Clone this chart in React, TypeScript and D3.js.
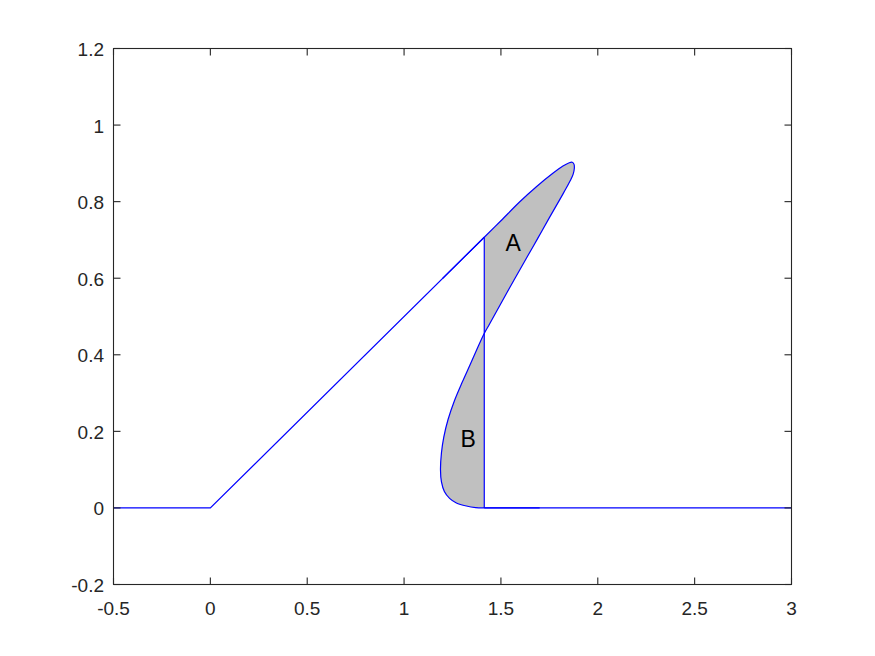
import React from "react";
import * as d3 from "d3";

const W = 875;
const H = 656;

const xDomain = [-0.5, 3];
const yDomain = [-0.2, 1.2];
const xTicks = [-0.5, 0, 0.5, 1, 1.5, 2, 2.5, 3];
const yTicks = [-0.2, 0, 0.2, 0.4, 0.6, 0.8, 1, 1.2];

// straight pieces of the solution
const leftBase: [number, number][] = [[-0.5, 0], [0, 0], [1.414, 0.707]];
const rightBase: [number, number][] = [[1.414, 0], [3, 0]];
const shock: [number, number][] = [[1.414, 0], [1.414, 0.707]];

// upper branch near the fold tip
const upperPts: [number, number][] = [
  [1.414, 0.707], [1.5, 0.75], [1.596, 0.799], [1.683, 0.839], [1.768, 0.874],
  [1.82, 0.893], [1.85, 0.901], [1.868, 0.903], [1.877, 0.898],
];
// returning (folded) branch down to the axis
const foldPts: [number, number][] = [
  [1.879, 0.887], [1.873, 0.872], [1.859, 0.856], [1.83, 0.829], [1.8, 0.802],
  [1.751, 0.759], [1.69, 0.704], [1.63, 0.651], [1.535, 0.566], [1.442, 0.481],
  [1.413, 0.455], [1.375, 0.413], [1.339, 0.372], [1.3, 0.328], [1.26, 0.28],
  [1.227, 0.231], [1.205, 0.185], [1.193, 0.144], [1.188, 0.1], [1.193, 0.068],
  [1.208, 0.043], [1.235, 0.025], [1.27, 0.013], [1.322, 0.005], [1.37, 0.001],
  [1.414, 0],
];

const labels = [
  { text: "A", x: 1.563, y: 0.694 },
  { text: "B", x: 1.331, y: 0.182 },
];

const L = 113.5, R = 791.5, T = 48.5, B = 584.5;

export default function App() {
  const x = d3.scaleLinear().domain(xDomain).range([L, R]);
  const y = d3.scaleLinear().domain(yDomain).range([B, T]);

  const lin = d3.line<[number, number]>().x((d) => x(d[0])).y((d) => y(d[1]));
  const smooth = d3
    .line<[number, number]>()
    .x((d) => x(d[0]))
    .y((d) => y(d[1]))
    .curve(d3.curveCatmullRom.alpha(0.5));

  const curvePts: [number, number][] = [
    [1.2, 0.6],
    ...upperPts,
    ...foldPts,
    [1.5, 0],
    [1.7, 0],
  ];
  const fillPts: [number, number][] = [...upperPts, ...foldPts];

  const font = "'Liberation Sans', Arial, Helvetica, sans-serif";
  const axisColor = "#262626";
  const tickLen = 7;

  return (
    <svg
      width={W}
      height={H}
      style={{ position: "absolute", left: 0, top: 0, background: "#fff" }}
    >
      <rect x={0} y={0} width={W} height={H} fill="#fff" />
      <path d={smooth(fillPts) + "Z"} fill="#c0c0c0" stroke="none" />
      <path d={smooth(curvePts) || ""} fill="none" stroke="#0000ff" strokeWidth={1.2} />
      <path d={lin(leftBase) || ""} fill="none" stroke="#0000ff" strokeWidth={1.2} />
      <path d={lin(rightBase) || ""} fill="none" stroke="#0000ff" strokeWidth={1.2} />
      <path d={lin(shock) || ""} fill="none" stroke="#0000ff" strokeWidth={1.2} />

      {labels.map((l) => (
        <text
          key={l.text}
          x={x(l.x)}
          y={y(l.y) + 8.3}
          textAnchor="middle"
          fontFamily={font}
          fontSize={23}
          fill="#000"
        >
          {l.text}
        </text>
      ))}

      <g stroke={axisColor} strokeWidth={1.1} fill="none">
        <rect x={L} y={T} width={R - L} height={B - T} />
        {xTicks.map((t) => (
          <g key={"xt" + t}>
            <line x1={x(t)} x2={x(t)} y1={B} y2={B - tickLen} />
            <line x1={x(t)} x2={x(t)} y1={T} y2={T + tickLen} />
          </g>
        ))}
        {yTicks.map((t) => (
          <g key={"yt" + t}>
            <line x1={L} x2={L + tickLen} y1={y(t)} y2={y(t)} />
            <line x1={R} x2={R - tickLen} y1={y(t)} y2={y(t)} />
          </g>
        ))}
      </g>
      <g fontFamily={font} fontSize={19} fill={axisColor}>
        {xTicks.map((t) => (
          <text key={"xl" + t} x={x(t)} y={B + 30.5} textAnchor="middle">
            {String(t)}
          </text>
        ))}
        {yTicks.map((t) => (
          <text key={"yl" + t} x={L - 9.5} y={y(t) + 7.5} textAnchor="end">
            {String(t)}
          </text>
        ))}
      </g>
    </svg>
  );
}
